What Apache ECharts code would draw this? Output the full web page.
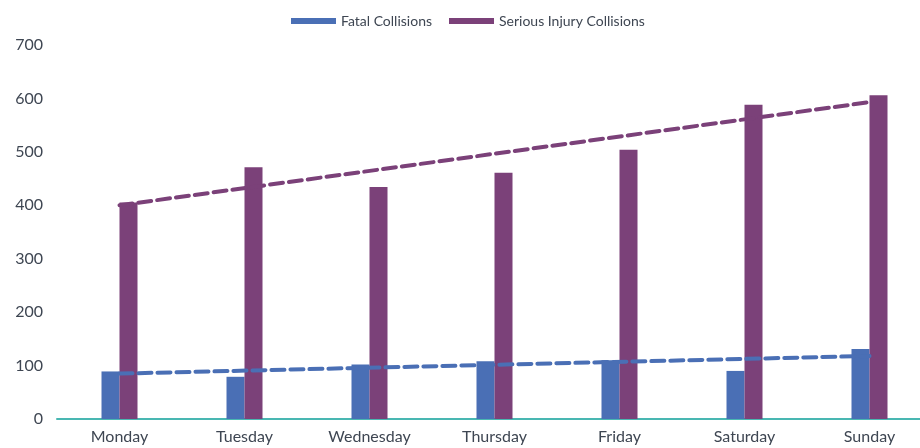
<!DOCTYPE html>
<html>
<head>
<meta charset="utf-8">
<script src="https://cdn.jsdelivr.net/npm/echarts@6/dist/echarts.min.js"></script>
<style>
  html, body { margin: 0; padding: 0; background: #fff; }
  #chart { width: 920px; height: 448px; }
</style>
</head>
<body>
<div id="chart"></div>
<script>
const days = ['Monday', 'Tuesday', 'Wednesday', 'Thursday', 'Friday', 'Saturday', 'Sunday'];
const fatal = [89, 79, 102, 108, 110, 90, 131];
const serious = [405, 471, 434, 461, 504, 588, 606];
// trend lines: only end points, joined straight
const fatalTrend = [85, null, null, null, null, null, 118];
const seriousTrend = [400, null, null, null, null, null, 593];

const chart = echarts.init(document.getElementById('chart'));
const txt = '#3e4652';

const option = {
  animation: false,
  textStyle: { fontFamily: 'Lato' },
  legend: {
    data: ['Fatal Collisions', 'Serious Injury Collisions'],
    top: 9,
    left: 286,
    itemWidth: 45,
    itemHeight: 6,
    itemGap: 17,
    icon: 'rect',
    textStyle: { color: txt, fontSize: 14, fontFamily: 'Lato' }
  },
  grid: { left: 57, right: -12, top: 45, bottom: 29, outerBoundsMode: 'none', containLabel: false },
  xAxis: {
    type: 'category',
    data: days,
    axisTick: { show: false },
    axisLine: { lineStyle: { color: '#49b7b2', width: 2 } },
    axisLabel: { color: txt, fontSize: 16, margin: 10 }
  },
  yAxis: {
    type: 'value',
    min: 0,
    max: 700,
    interval: 100,
    axisLine: { show: false },
    axisTick: { show: false },
    splitLine: { show: false },
    axisLabel: { color: txt, fontSize: 16, margin: 14 }
  },
  series: [
    {
      name: 'Fatal Collisions',
      type: 'bar',
      data: fatal,
      barWidth: 18,
      barGap: '0%',
      itemStyle: { color: '#4a6fb5' }
    },
    {
      name: 'Serious Injury Collisions',
      type: 'bar',
      data: serious,
      barWidth: 18,
      itemStyle: { color: '#7b4179' }
    },
    {
      name: 'Fatal trend',
      type: 'line',
      data: fatalTrend,
      connectNulls: true,
      symbol: 'none',
      z: 5,
      lineStyle: { color: '#4a6fb5', width: 4, type: [13, 6], cap: 'round' }
    },
    {
      name: 'Serious trend',
      type: 'line',
      data: seriousTrend,
      connectNulls: true,
      symbol: 'none',
      z: 5,
      lineStyle: { color: '#7b4179', width: 4, type: [13, 6], cap: 'round' }
    }
  ]
};

chart.setOption(option);
</script>
</body>
</html>
